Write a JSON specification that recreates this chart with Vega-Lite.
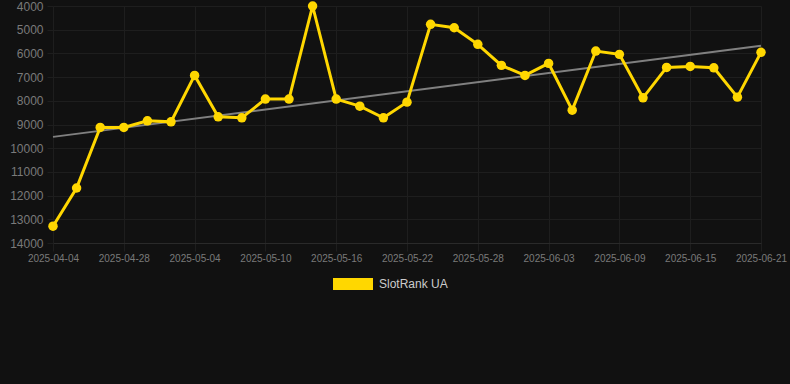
{
  "$schema": "https://vega.github.io/schema/vega-lite/v6.json",
  "width": 708,
  "height": 237,
  "autosize": {"type": "none"},
  "padding": {"left": 53, "top": 6, "right": 29, "bottom": 141},
  "background": "#111111",
  "config": {
    "view": {"stroke": null},
    "font": "Liberation Sans"
  },
  "datasets": {
    "rank": [
      {"date": "2025-04-04", "rank": 13290, "series": "SlotRank UA"},
      {"date": "2025-04-24", "rank": 11680, "series": "SlotRank UA"},
      {"date": "2025-04-26", "rank": 9125, "series": "SlotRank UA"},
      {"date": "2025-04-28", "rank": 9125, "series": "SlotRank UA"},
      {"date": "2025-04-30", "rank": 8846, "series": "SlotRank UA"},
      {"date": "2025-05-02", "rank": 8888, "series": "SlotRank UA"},
      {"date": "2025-05-04", "rank": 6928, "series": "SlotRank UA"},
      {"date": "2025-05-06", "rank": 8677, "series": "SlotRank UA"},
      {"date": "2025-05-08", "rank": 8719, "series": "SlotRank UA"},
      {"date": "2025-05-10", "rank": 7929, "series": "SlotRank UA"},
      {"date": "2025-05-12", "rank": 7929, "series": "SlotRank UA"},
      {"date": "2025-05-14", "rank": 4000, "series": "SlotRank UA"},
      {"date": "2025-05-16", "rank": 7929, "series": "SlotRank UA"},
      {"date": "2025-05-18", "rank": 8225, "series": "SlotRank UA"},
      {"date": "2025-05-20", "rank": 8719, "series": "SlotRank UA"},
      {"date": "2025-05-22", "rank": 8056, "series": "SlotRank UA"},
      {"date": "2025-05-24", "rank": 4773, "series": "SlotRank UA"},
      {"date": "2025-05-26", "rank": 4917, "series": "SlotRank UA"},
      {"date": "2025-05-28", "rank": 5618, "series": "SlotRank UA"},
      {"date": "2025-05-30", "rank": 6505, "series": "SlotRank UA"},
      {"date": "2025-06-01", "rank": 6928, "series": "SlotRank UA"},
      {"date": "2025-06-03", "rank": 6421, "series": "SlotRank UA"},
      {"date": "2025-06-05", "rank": 8394, "series": "SlotRank UA"},
      {"date": "2025-06-07", "rank": 5901, "series": "SlotRank UA"},
      {"date": "2025-06-09", "rank": 6041, "series": "SlotRank UA"},
      {"date": "2025-06-11", "rank": 7874, "series": "SlotRank UA"},
      {"date": "2025-06-13", "rank": 6590, "series": "SlotRank UA"},
      {"date": "2025-06-15", "rank": 6548, "series": "SlotRank UA"},
      {"date": "2025-06-17", "rank": 6607, "series": "SlotRank UA"},
      {"date": "2025-06-19", "rank": 7845, "series": "SlotRank UA"},
      {"date": "2025-06-21", "rank": 5956, "series": "SlotRank UA"}
    ],
    "trend": [
      {"date": "2025-04-04", "rank": 9522},
      {"date": "2025-06-21", "rank": 5677}
    ]
  },
  "encoding": {
    "x": {
      "field": "date",
      "type": "ordinal",
      "sort": null,
      "scale": {
        "type": "point",
        "padding": 0,
        "domain": ["2025-04-04", "2025-04-24", "2025-04-26", "2025-04-28", "2025-04-30", "2025-05-02", "2025-05-04", "2025-05-06", "2025-05-08", "2025-05-10", "2025-05-12", "2025-05-14", "2025-05-16", "2025-05-18", "2025-05-20", "2025-05-22", "2025-05-24", "2025-05-26", "2025-05-28", "2025-05-30", "2025-06-01", "2025-06-03", "2025-06-05", "2025-06-07", "2025-06-09", "2025-06-11", "2025-06-13", "2025-06-15", "2025-06-17", "2025-06-19", "2025-06-21"]
      },
      "axis": {
        "title": null,
        "values": ["2025-04-04", "2025-04-28", "2025-05-04", "2025-05-10", "2025-05-16", "2025-05-22", "2025-05-28", "2025-06-03", "2025-06-09", "2025-06-15", "2025-06-21"],
        "labelAngle": 0,
        "labelFontSize": 10,
        "labelColor": "#7a7a7a",
        "labelPadding": 2,
        "tickSize": 8,
        "tickColor": "#1e1e1e",
        "grid": true,
        "gridColor": "#1e1e1e",
        "domain": true,
        "domainColor": "#2a2a2a"
      }
    },
    "y": {
      "field": "rank",
      "type": "quantitative",
      "scale": {"domain": [4000, 14000], "reverse": true, "nice": false, "zero": false},
      "axis": {
        "title": null,
        "values": [4000, 5000, 6000, 7000, 8000, 9000, 10000, 11000, 12000, 13000, 14000],
        "format": "d",
        "labelFontSize": 12,
        "labelColor": "#7a7a7a",
        "labelPadding": 4,
        "tickSize": 6,
        "tickColor": "#1e1e1e",
        "grid": true,
        "gridColor": "#1e1e1e",
        "domain": false
      }
    }
  },
  "layer": [
    {
      "data": {"name": "trend"},
      "mark": {"type": "line", "stroke": "#808080", "strokeWidth": 2},
      "encoding": {}
    },
    {
      "data": {"name": "rank"},
      "mark": {"type": "line", "strokeWidth": 3},
      "encoding": {
        "color": {
          "field": "series",
          "type": "nominal",
          "scale": {"domain": ["SlotRank UA"], "range": ["#FFD700"]},
          "legend": {
            "title": null,
            "orient": "none",
            "legendX": 280,
            "legendY": 258,
            "padding": 0,
            "symbolType": "M-1,-0.3H1V0.3H-1Z",
            "symbolSize": 1600,
            "symbolStrokeWidth": 0,
            "symbolFillColor": "#FFD700",
            "symbolOpacity": 1,
            "labelColor": "#cccccc",
            "labelFontSize": 12,
            "labelOffset": 6
          }
        }
      }
    },
    {
      "data": {"name": "rank"},
      "mark": {"type": "circle", "size": 90, "opacity": 1, "color": "#FFD700"},
      "encoding": {}
    }
  ]
}
